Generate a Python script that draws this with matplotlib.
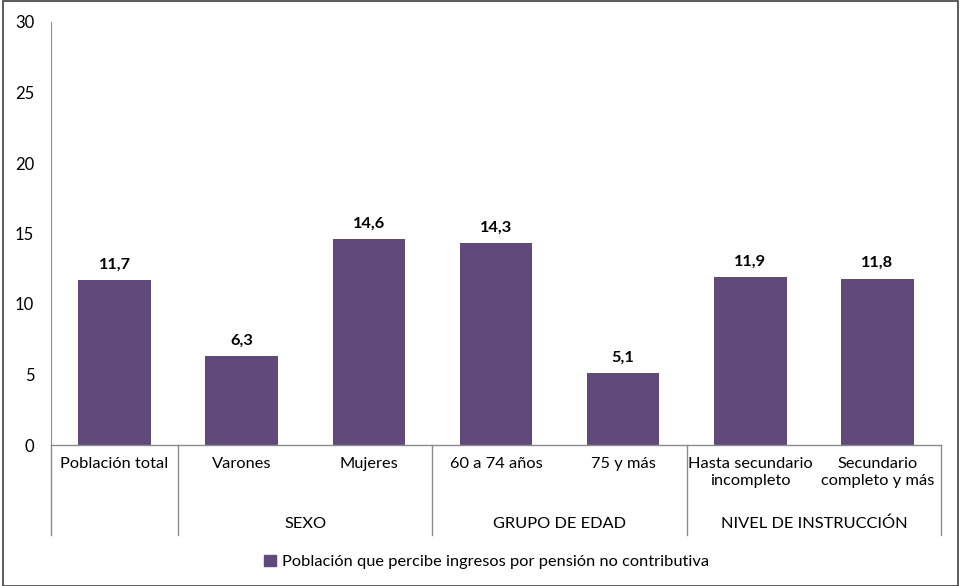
import matplotlib
matplotlib.use("Agg")
import matplotlib.pyplot as plt
from matplotlib.patches import Patch, Rectangle
import matplotlib.transforms as mtransforms

categorias = ["Población total", "Varones", "Mujeres", "60 a 74 años", "75 y más",
              "Hasta secundario\nincompleto", "Secundario\ncompleto y más"]
valores = [11.7, 6.3, 14.6, 14.3, 5.1, 11.9, 11.8]
grupos = ["", "SEXO", "GRUPO DE EDAD", "NIVEL DE INSTRUCCIÓN"]
grupo_rango = [(0, 0), (1, 2), (3, 4), (5, 6)]
serie = "Población que percibe ingresos por pensión no contributiva"
yticks = [0, 5, 10, 15, 20, 25, 30]

color_barra = "#604A7B"
gris = "#8C8C8C"

plt.rcParams['font.family'] = ['Lato', 'DejaVu Sans']

fig = plt.figure(figsize=(9.61, 5.86), dpi=100)
ax = fig.add_axes([51 / 961, 141 / 586, 890 / 961, 423 / 586])

x = list(range(len(categorias)))
barras = ax.bar(x, valores, width=0.57, color=color_barra)
for b, v in zip(barras, valores):
    ax.annotate(f"{v:.1f}".replace(".", ","), (b.get_x() + b.get_width() / 2, v),
                xytext=(0, 6), textcoords="offset points", ha="center", va="bottom",
                fontsize=11.8, fontweight="bold")

ax.set_xlim(-0.5, len(categorias) - 0.5)
ax.set_ylim(0, 30)
ax.set_yticks(yticks)
ax.tick_params(axis="y", length=0, pad=12, labelsize=12)
ax.set_xticks([])
for s in ["top", "right", "bottom"]:
    ax.spines[s].set_visible(False)
ax.spines["left"].set_color(gris)

trans = mtransforms.blended_transform_factory(ax.transData, ax.transAxes)
ax.plot([-0.5, len(categorias) - 0.5], [0, 0], color=gris, lw=1, transform=trans, clip_on=False)

# etiquetas de categoría
for xi, c in zip(x, categorias):
    ax.text(xi, -0.028, c, transform=trans, ha="center", va="top", fontsize=11.8,
            linespacing=1.3)

# separadores y grupos
ybajo = -0.213
for (a, b), g in zip(grupo_rango, grupos):
    ax.plot([a - 0.5, a - 0.5], [0, ybajo], color=gris, lw=1, transform=trans, clip_on=False)
    ax.text((a + b) / 2, -0.187, g, transform=trans, ha="center", va="center", fontsize=11.8)
ax.plot([6.5, 6.5], [0, ybajo], color=gris, lw=1, transform=trans, clip_on=False)

fig.legend(handles=[Patch(color=color_barra, label=serie)], loc="center",
           bbox_to_anchor=(487 / 961, 1 - 562 / 586), frameon=False, fontsize=11.8,
           handlelength=0.7, handleheight=0.7, handletextpad=0.4)

fig.patches.append(Rectangle((0.003, 0.0), 0.994, 0.998, transform=fig.transFigure,
                             fill=False, edgecolor="#404040", lw=1.2))

fig.savefig("out.png", dpi=100)
